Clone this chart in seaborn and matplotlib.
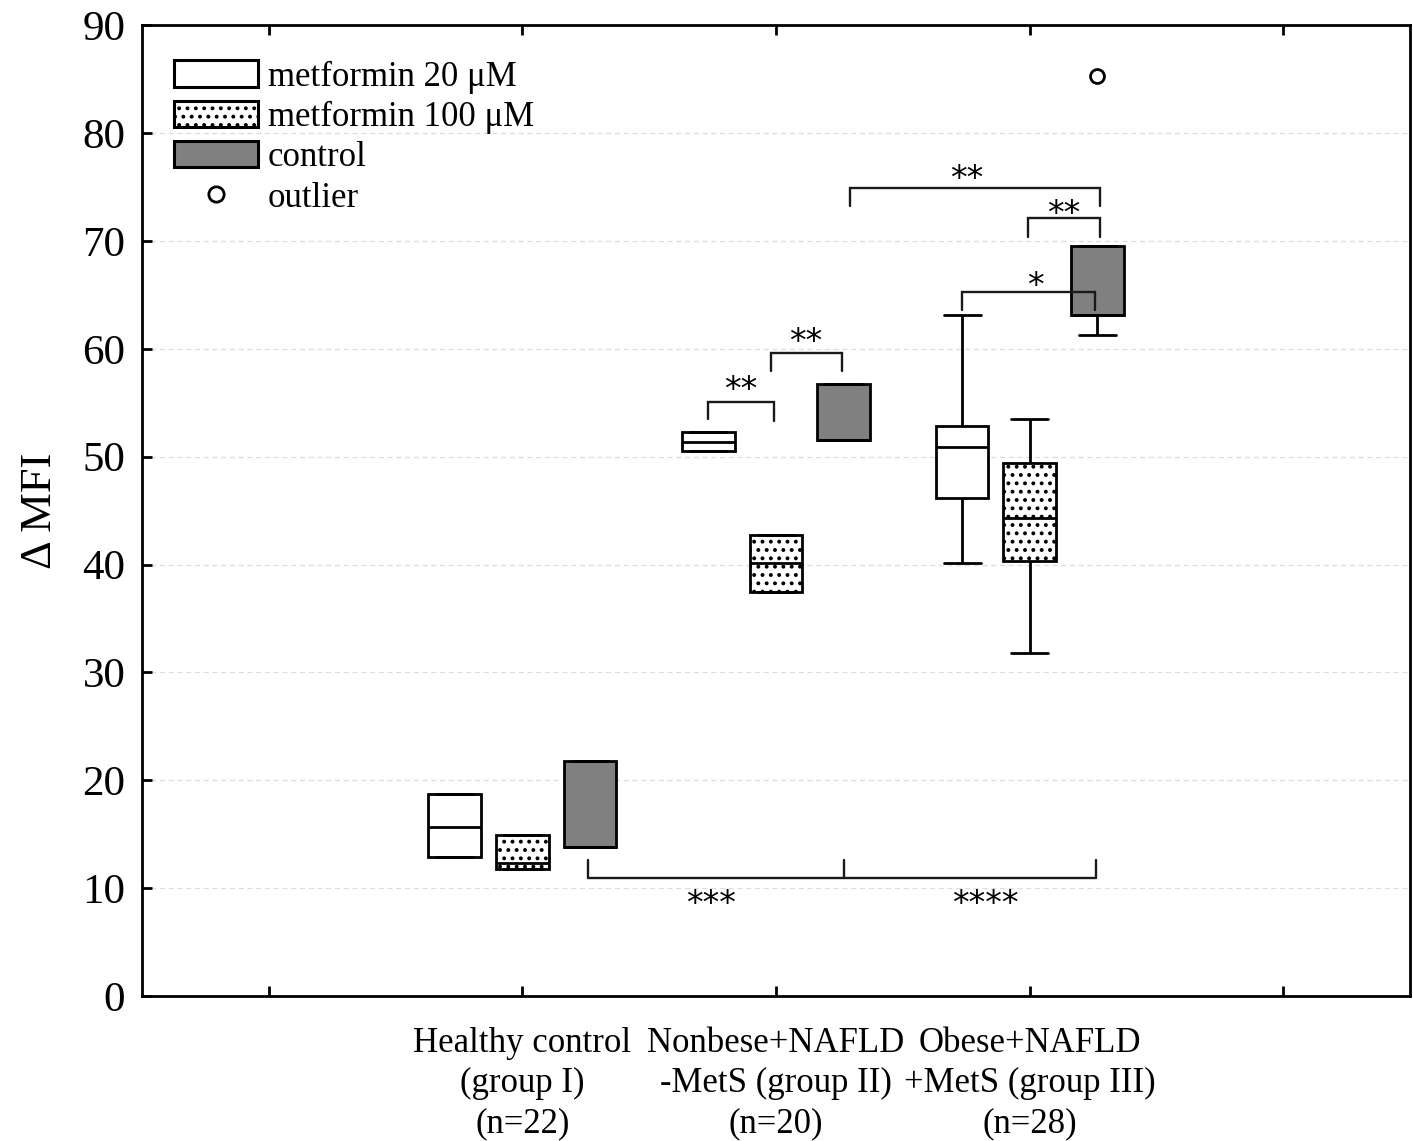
import numpy as np
import pandas as pd
import matplotlib
matplotlib.use("Agg")
import matplotlib.pyplot as plt
import seaborn as sns
from matplotlib.patches import Patch
from matplotlib.lines import Line2D

# ---------------- data ----------------
groups = ["Healthy control\n(group I)\n(n=22)",
          "Nonbese+NAFLD\n-MetS (group II)\n(n=20)",
          "Obese+NAFLD\n+MetS (group III)\n(n=28)"]
treatments = ["metformin 20 \u03bcM", "metformin 100 \u03bcM", "control"]

# five-number summaries: min, q1, median, q3, max
g1_met20 = [12.9, 12.9, 15.7, 18.7, 18.7]
g1_met100 = [11.8, 11.8, 12.3, 14.9, 14.9]
g1_ctrl = [13.8, 13.8, 13.8, 21.8, 21.8]
g2_met20 = [50.5, 50.5, 51.4, 52.3, 52.3]
g2_met100 = [37.5, 37.5, 40.1, 42.7, 42.7]
g2_ctrl = [51.5, 51.5, 51.5, 56.7, 56.7]
g3_met20 = [40.1, 46.2, 50.9, 52.8, 63.1]
g3_met100 = [31.8, 40.3, 44.3, 49.4, 53.5]
g3_ctrl = [61.3, 63.1, 63.1, 69.5, 69.5]
outlier_value = [85.3]

yticks = [0, 10, 20, 30, 40, 50, 60, 70, 80, 90]

summaries = {
    (groups[0], treatments[0]): g1_met20,
    (groups[0], treatments[1]): g1_met100,
    (groups[0], treatments[2]): g1_ctrl,
    (groups[1], treatments[0]): g2_met20,
    (groups[1], treatments[1]): g2_met100,
    (groups[1], treatments[2]): g2_ctrl,
    (groups[2], treatments[0]): g3_met20,
    (groups[2], treatments[1]): g3_met100,
    (groups[2], treatments[2]): g3_ctrl,
}
rows = []
for (g, t), vals in summaries.items():
    for v in vals:
        rows.append({"group": g, "treatment": t, "value": v})
df = pd.DataFrame(rows)
df_out = pd.DataFrame({"group": [groups[2]], "treatment": [treatments[2]],
                       "value": outlier_value})

# ---------------- plot ----------------
sns.set_theme(style="white")
plt.rcParams["font.family"] = ["Liberation Serif", "DejaVu Serif"]
plt.rcParams["hatch.linewidth"] = 1.6
for k in ["text.color", "axes.labelcolor", "xtick.color", "ytick.color"]:
    plt.rcParams[k] = "black"

fig = plt.figure(figsize=(14.13, 11.41), dpi=100)
ax = fig.add_axes([0.1005, 0.127, 0.8975, 0.851])

order = ["", groups[0], groups[1], groups[2], " "]
palette = {treatments[0]: "white", treatments[1]: "white", treatments[2]: "#808080"}

sns.boxplot(data=df, x="group", y="value", hue="treatment", order=order,
            hue_order=treatments, palette=palette, whis=(0, 100),
            linecolor="black", linewidth=2.0, gap=0.22, width=0.8,
            showfliers=False, legend=False, ax=ax)

# hatch the metformin 100 boxes (centred on the category position)
for p in ax.patches:
    verts = p.get_path().vertices
    xc = (verts[:, 0].min() + verts[:, 0].max()) / 2
    if abs(xc - round(xc)) < 0.05:
        p.set_hatch("..")

# cap widths
boxw = 0.8 / 3 * (1 - 0.22)
for ln in ax.lines:
    xd = np.asarray(ln.get_xdata(), dtype=float)
    yd = np.asarray(ln.get_ydata(), dtype=float)
    if len(xd) == 2 and yd[0] == yd[1]:
        xc = xd.mean()
        w = xd[1] - xd[0]
        if abs(w) < boxw * 0.95:
            half = boxw * 0.7 / 2
            ln.set_xdata([xc - half, xc + half])

sns.stripplot(data=df_out, x="group", y="value", hue="treatment", order=order,
              hue_order=treatments, dodge=True, jitter=False, legend=False,
              marker="o", size=10, edgecolor="black",
              linewidth=2.0, ax=ax, palette={t: "white" for t in treatments})

ax.set_xlim(-0.5, 4.5)
ax.set_ylim(0, 90)
ax.set_yticks(yticks)
ax.set_yticklabels([str(v) for v in yticks])
ax.set_xlabel("")
ax.set_ylabel("\u0394 MFI", fontsize=32, labelpad=16)
ax.tick_params(axis="y", labelsize=31, direction="in", length=7, width=2,
               left=True, pad=12)
ax.tick_params(axis="x", labelsize=25, direction="in", length=7, width=2,
               bottom=True, top=True, pad=22)
for lab in ax.get_xticklabels():
    lab.set_linespacing(1.3)

ax.yaxis.grid(True, color="#dcdcdc", linestyle=(0, (4, 3)), linewidth=0.9)
ax.xaxis.grid(False)
ax.set_axisbelow(True)
for s in ax.spines.values():
    s.set_visible(True)
    s.set_color("black")
    s.set_linewidth(2)

# ---------------- significance brackets ----------------
off = 0.8 / 3
STAR_DY = -0.7  # asterisk glyph sits high in its line box


def pos(g, h):
    return (g + 1) + (h - 1) * off


def stars(x, y, n):
    ax.text(x, y + STAR_DY, "*" * n, ha="center", va="center", fontsize=24,
            family="DejaVu Sans", zorder=6)


brackets = [
    # x_left, x_right, y_top, y_left_end, y_right_end, n_stars, label_x, label_y
    (pos(1, 0), pos(1, 1) - 0.01, 55.1, 53.5, 53.3, 2, 1.862, 56.8),
    (pos(1, 1) - 0.02, pos(1, 2) - 0.005, 59.6, 57.9, 57.9, 2, 2.118, 61.3),
    (pos(1, 2) + 0.025, pos(2, 2) + 0.01, 74.9, 73.2, 73.2, 2, 2.753, 76.4),
    (pos(2, 1) - 0.005, pos(2, 2) + 0.01, 72.1, 70.4, 70.4, 2, 3.132, 73.1),
    (pos(2, 0), pos(2, 2) - 0.01, 65.3, 63.6, 63.6, 1, 3.021, 66.5),
]
for xl, xr, yt, yl, yr, ns, lx, ly in brackets:
    ax.plot([xl, xl, xr, xr], [yl, yt, yt, yr], color="#1a1a1a", lw=1.7,
            solid_joinstyle="miter", zorder=5)
    stars(lx, ly, ns)

# bottom bracket
xb = [pos(0, 2) - 0.01, pos(1, 2), pos(2, 2) - 0.005]
yb, ytick = 10.9, 12.6
ax.plot([xb[0], xb[0], xb[2], xb[2]], [ytick, yb, yb, ytick], color="#1a1a1a",
        lw=1.7, zorder=5)
ax.plot([xb[1], xb[1]], [yb, ytick], color="#1a1a1a", lw=1.7, zorder=5)
stars(1.744, 9.2, 3)
stars(2.824, 9.2, 4)

# ---------------- legend ----------------
handles = [
    Patch(facecolor="white", edgecolor="black", linewidth=2.2),
    Patch(facecolor="white", edgecolor="black", linewidth=2.2, hatch=".."),
    Patch(facecolor="#808080", edgecolor="black", linewidth=2.2),
    Line2D([], [], marker="o", linestyle="none", markersize=11,
           markerfacecolor="white", markeredgecolor="black", markeredgewidth=2),
]
labels = treatments + ["outlier"]
leg = ax.legend(handles, labels, loc="upper left", bbox_to_anchor=(0.0145, 0.978),
                frameon=False, fontsize=25, handlelength=2.4, handleheight=0.8,
                handletextpad=0.3, labelspacing=0.2, borderaxespad=0.0)

fig.savefig("out.png", dpi=100)
